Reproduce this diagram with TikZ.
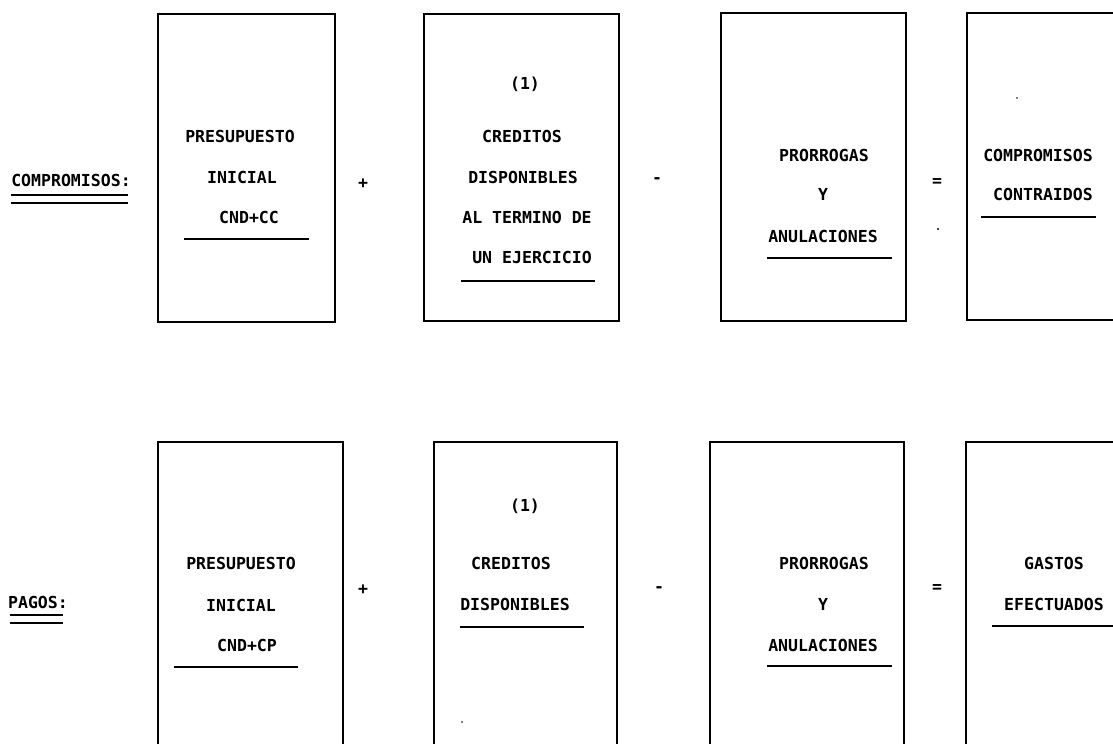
\documentclass[tikz,border=0pt]{standalone}
\usepackage{fontspec}
\newfontfamily\dotfont{DejaVu Sans Mono}
\tikzset{
  frame/.style={line width=2pt},
  uline/.style={line width=2pt},
  lbl/.style={inner sep=0pt, font=\dotfont\bfseries\fontsize{12.4}{14}\selectfont, text height=9pt, text depth=0pt},
  speck/.style={fill=black},
}
\begin{document}
\begin{tikzpicture}[x=0.75pt,y=-0.75pt]
\useasboundingbox (0,0) rectangle (1113,743);
\clip (0,0) rectangle (1113,743);
\fill[white] (0,0) rectangle (1113,743);

% ---------- top row: COMPROMISOS ----------
\node[lbl] (comp) at (71,180) {COMPROMISOS:};
\draw[uline] (11,195) -- (128,195);
\draw[uline] (11,203) -- (128,203);

\draw[frame] (158,14) rectangle (335,322);
\node[lbl] (ta1) at (240,136) {PRESUPUESTO};
\node[lbl] (ta2) at (242,177) {INICIAL};
\node[lbl] (ta3) at (249,217) {CND+CC};
\draw[uline] (184,239) -- (309,239);

\node[lbl] (tplus) at (363,182) {+};

\draw[frame] (424,14) rectangle (619,321);
\node[lbl] (tb0) at (525,83) {(1)};
\node[lbl] (tb1) at (522,136) {CREDITOS};
\node[lbl] (tb2) at (523,177) {DISPONIBLES};
\node[lbl] (tb3) at (527,217) {AL TERMINO DE};
\node[lbl] (tb4) at (532,257) {UN EJERCICIO};
\draw[uline] (461,281) -- (595,281);

\node[lbl] (tminus) at (657,177) {-};

\draw[frame] (721,13) rectangle (906,321);
\node[lbl] (tc1) at (824,155) {PRORROGAS};
\node[lbl] (tc2) at (823,194) {Y};
\node[lbl] (tc3) at (823,236) {ANULACIONES};
\draw[uline] (767,258) -- (892,258);

\node[lbl] (teq) at (937,180) {=};

\draw[frame] (967,13) rectangle (1140,320);
\node[lbl] (td1) at (1038,155) {COMPROMISOS};
\node[lbl] (td2) at (1043,194) {CONTRAIDOS};
\draw[uline] (981,217) -- (1096,217);

% ---------- bottom row: PAGOS ----------
\node[lbl] (pag) at (38,602) {PAGOS:};
\draw[uline] (10,615) -- (63,615);
\draw[uline] (10,623) -- (63,623);

\draw[frame] (158,442) rectangle (343,760);
\node[lbl] (ba1) at (241,563) {PRESUPUESTO};
\node[lbl] (ba2) at (241,605) {INICIAL};
\node[lbl] (ba3) at (247,645) {CND+CP};
\draw[uline] (174,667) -- (298,667);

\node[lbl] (bplus) at (363,588) {+};

\draw[frame] (434,442) rectangle (617,760);
\node[lbl] (bb0) at (525,505) {(1)};
\node[lbl] (bb1) at (511,563) {CREDITOS};
\node[lbl] (bb2) at (515,604) {DISPONIBLES};
\draw[uline] (460,627) -- (584,627);

\node[lbl] (bminus) at (659,586) {-};

\draw[frame] (710,442) rectangle (904,760);
\node[lbl] (bc1) at (824,563) {PRORROGAS};
\node[lbl] (bc2) at (823,604) {Y};
\node[lbl] (bc3) at (823,645) {ANULACIONES};
\draw[uline] (767,666) -- (892,666);

\node[lbl] (beq) at (937,586) {=};

\draw[frame] (966,442) rectangle (1140,760);
\node[lbl] (bd1) at (1054,563) {GASTOS};
\node[lbl] (bd2) at (1054,604) {EFECTUADOS};
\draw[uline] (992,626) -- (1120,626);

% scan specks
\fill[speck] (1017,98) circle (0.9);
\fill[speck] (938,229) circle (1.2);
\fill[speck] (462,722) circle (0.9);
\end{tikzpicture}
\end{document}
